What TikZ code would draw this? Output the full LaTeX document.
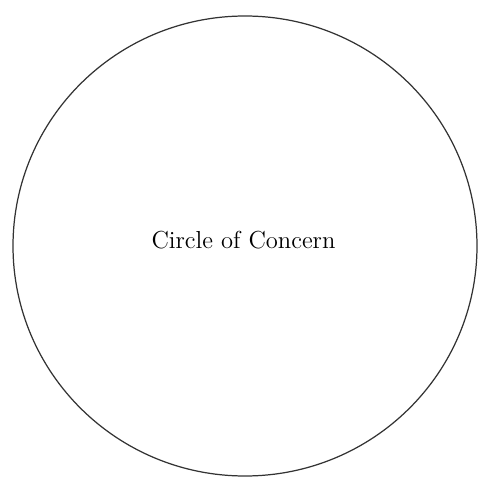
\documentclass[tikz,border=0pt]{standalone}
\usepackage{tikz}

\begin{document}
\begin{tikzpicture}[x=0.02cm, y=-0.02cm]
    \useasboundingbox (0, 0) rectangle (500, 500);
    \draw [line width=0.7pt, black!80] (245, 246) ellipse [x radius=232, y radius=230];
    \node (concern) at (243.5, 240) {\fontsize{14}{16}\selectfont Circle of Concern};
  \end{tikzpicture}
\end{document}
